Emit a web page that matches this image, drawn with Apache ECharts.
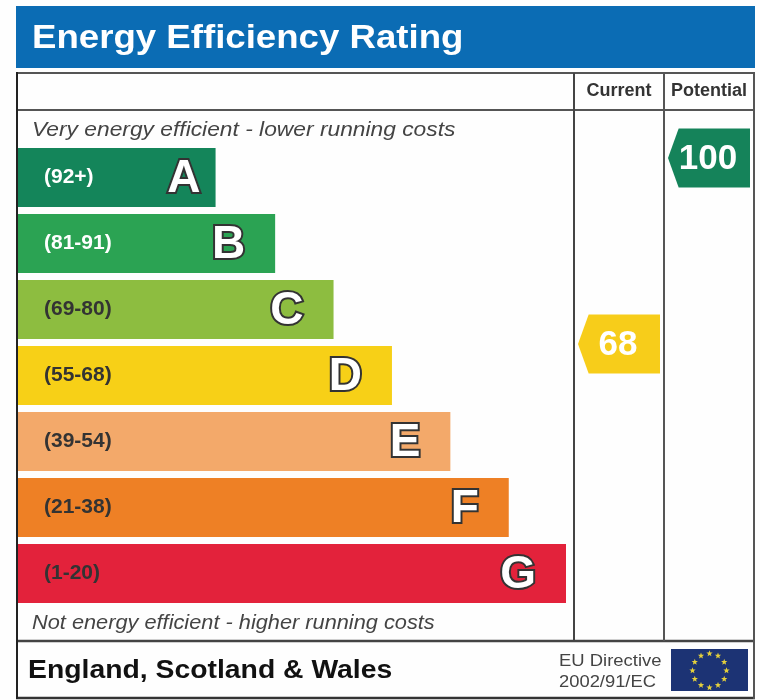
<!DOCTYPE html>
<html>
<head>
<meta charset="utf-8">
<title>Energy Efficiency Rating</title>
<script src="https://cdn.jsdelivr.net/npm/echarts@6/dist/echarts.min.js"></script>
<style>
html,body{margin:0;padding:0;background:#fff;}
#chart{width:760px;height:700px;}
</style>
</head>
<body>
<div id="chart"></div>
<script>
var bandLetters = ['A','B','C','D','E','F','G'];
var bandRanges = ['(92+)','(81-91)','(69-80)','(55-68)','(39-54)','(21-38)','(1-20)'];
var bandLengths = [3.4,4.42,5.42,6.42,7.42,8.42,9.4];
var bandColors = ['#14855a','#2ba353','#8dbd40','#f7d017','#f3a96a','#ee8025','#e3223b'];
var ratingColumns = ['Current','Potential'];
var ratingValues = [68,100];
var ratingColors = ['#f7cd1a','#15835a'];

var FONT = '"Liberation Sans", Arial, sans-serif';
var myChart = echarts.init(document.getElementById('chart'));

function frameLine(x1,y1,x2,y2,color,width){
	return {type:'line',silent:true,z:10,
		shape:{x1:x1,y1:y1,x2:x2,y2:y2},
		style:{stroke:color,lineWidth:width}};
}
// the reference text runs wider than Liberation, so stretch it a little
function freeText(text,x,y,font,color,stretch){
	return {type:'text',silent:true,z:11,x:x,y:y,scaleX:stretch,
		style:{text:text,font:font,fill:color,textVerticalAlign:'middle'}};
}
// the twelve stars of the flag
function flagStars(cx,cy,r,size){
	var out = [];
	for (var i = 0; i < 12; i++) {
		var a = i*Math.PI/6, px = cx+r*Math.sin(a), py = cy-r*Math.cos(a), pts = [];
		for (var k = 0; k < 10; k++) {
			var b = k*Math.PI/5, rr = k%2 ? size*0.42 : size;
			pts.push([px+rr*Math.sin(b),py-rr*Math.cos(b)]);
		}
		out.push({type:'polygon',silent:true,z:12,shape:{points:pts},style:{fill:'#e4d03c'}});
	}
	return out;
}

var graphics = [
	{type:'rect',silent:true,z:1,shape:{x:16,y:6,width:739,height:62},style:{fill:'#0b6cb4'}},
	freeText('Energy Efficiency Rating',32,39,'bold 34px '+FONT,'#ffffff',1.077),
	frameLine(16,73,755,73,'#555555',2),
	frameLine(16,110,755,110,'#555555',2),
	frameLine(16,641,755,641,'#444444',2.5),
	frameLine(16,698,755,698,'#333333',2.5),
	frameLine(17,72,17,699,'#222222',2),
	frameLine(574,73,574,641,'#444444',2),
	frameLine(664,73,664,641,'#555555',2),
	frameLine(754,73,754,699,'#555555',2),
	freeText('Very energy efficient - lower running costs',32,130,'italic 21px '+FONT,'#444444',1.085),
	freeText('Not energy efficient - higher running costs',32,623,'italic 21px '+FONT,'#444444',1.036),
	freeText('England, Scotland & Wales',28,671,'bold 26px '+FONT,'#111111',1.09),
	freeText('EU Directive',559,661,'17px '+FONT,'#444444',1.085),
	freeText('2002/91/EC',559,682,'17px '+FONT,'#444444',1.08),
	{type:'rect',silent:true,z:11,shape:{x:671,y:649,width:77,height:42},style:{fill:'#1c3374'}}
].concat(flagStars(709.5,670.5,17,3.3));

myChart.setOption({
	animation:false,
	backgroundColor:'#fefefe',
	graphic:graphics,
	grid:[
		{left:17,top:144.5,width:549,height:462},
		{left:574,top:110,width:180,height:530}
	],
	xAxis:[
		{type:'value',gridIndex:0,min:0,max:9.4,show:false},
		{type:'category',gridIndex:1,position:'top',data:ratingColumns,
			axisLine:{show:false},axisTick:{show:false},
			axisLabel:{margin:10,interval:0,hideOverlap:false,fontFamily:FONT,fontWeight:'bold',fontSize:18,color:'#333333'}}
	],
	yAxis:[
		{type:'category',gridIndex:0,inverse:true,data:bandLetters,show:false},
		{type:'value',gridIndex:1,min:17.08,max:108.26,show:false,splitLine:{show:false}}
	],
	series:[
		{
			name:'Band',type:'bar',xAxisIndex:0,yAxisIndex:0,barWidth:59,silent:true,
			data:bandLengths.map(function(v,i){
				return {value:v,itemStyle:{color:bandColors[i]},
					label:{distance:i===0?15:30}};
			}),
			label:{show:true,position:'insideRight',offset:[0,2],
				formatter:function(p){return bandLetters[p.dataIndex];},
				fontFamily:FONT,fontWeight:'bold',fontSize:46,color:'#ffffff',
				textBorderColor:'#333333',textBorderWidth:4}
		},
		{
			name:'Range',type:'bar',xAxisIndex:0,yAxisIndex:0,barWidth:59,barGap:'-100%',silent:true,
			data:bandLengths.map(function(v,i){
				return {value:v,label:{color:i<2?'#ffffff':'#333333'}};
			}),
			itemStyle:{color:'transparent'},
			label:{show:true,position:'insideLeft',distance:27,
				formatter:function(p){return bandRanges[p.dataIndex];},
				fontFamily:FONT,fontWeight:'bold',fontSize:21}
		},
		{
			name:'Rating',type:'scatter',xAxisIndex:1,yAxisIndex:1,silent:true,
			symbol:'path://M0 50 L13 0 L100 0 L100 100 L13 100 Z',
			symbolSize:[82,59],
			data:ratingValues.map(function(v,i){
				return {value:[ratingColumns[i],v],itemStyle:{color:ratingColors[i],opacity:1}};
			}),
			label:{show:true,position:'inside',offset:[-1,1],
				formatter:function(p){return p.value[1];},
				fontFamily:FONT,fontWeight:'bold',fontSize:35,color:'#ffffff'}
		}
	]
});
window.addEventListener('resize',function(){myChart.resize();});
</script>
</body>
</html>
